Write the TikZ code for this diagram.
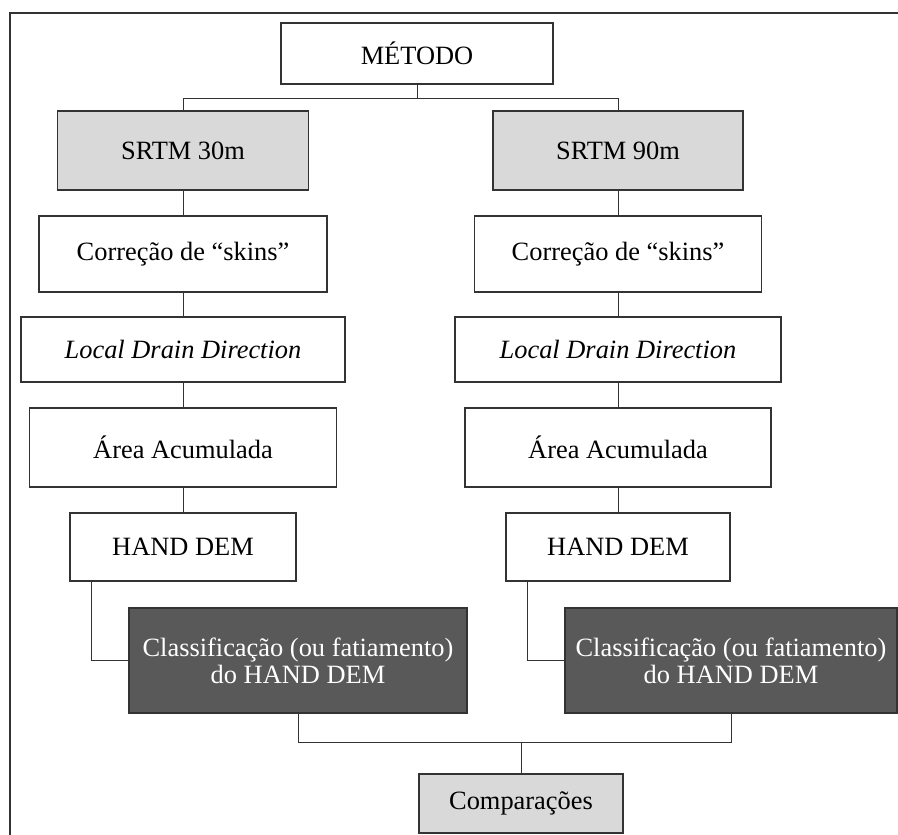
\documentclass[tikz,border=0pt]{standalone}
\usepackage{fontspec}
\setmainfont{Liberation Serif}
\definecolor{boxlight}{HTML}{D9D9D9}
\definecolor{boxdark}{HTML}{595959}
\definecolor{edge}{HTML}{333333}
\begin{document}
\begin{tikzpicture}[x=1pt,y=-1pt,
  box/.style={draw=edge, line width=1.4pt, fill=white, inner sep=0pt,
    font=\fontsize{26.4}{27}\selectfont, align=center},
  lgray/.style={box, fill=boxlight},
  dgray/.style={box, fill=boxdark, text=white},
  link/.style={draw=edge, line width=1pt},
  frame/.style={draw=edge, line width=1.4pt}]
\useasboundingbox (0,0) rectangle (898,835);
\fill[white] (0,0) rectangle (898,835);
\coordinate (fa) at (898,13);
\coordinate (fb) at (10,13);
\coordinate (fc) at (10,835);
\draw[frame] (fa) -- (fb) -- (fc);

\node[box, minimum width=272, minimum height=61] (metodo) at (417,53.5) {MÉTODO};

\node[lgray, minimum width=251, minimum height=79] (s30) at (183,150.5) {SRTM 30m};
\node[lgray, minimum width=250, minimum height=79] (s90) at (618,150.5) {SRTM 90m};

\node[box, minimum width=288, minimum height=76] (cor30) at (183,254) {Correção de “skins”};
\node[box, minimum width=287, minimum height=76] (cor90) at (618,254) {Correção de “skins”};

\node[box, minimum width=324, minimum height=65] (ldd30) at (183,349.5) {\textit{Local Drain Direction}};
\node[box, minimum width=326, minimum height=65] (ldd90) at (618,349.5) {\textit{Local Drain Direction}};

\node[box, minimum width=307, minimum height=79] (ar30) at (183,447.5) {Área Acumulada};
\node[box, minimum width=306, minimum height=79] (ar90) at (618,447.5) {Área Acumulada};

\node[box, minimum width=226, minimum height=68] (hd30) at (183,547) {HAND DEM};
\node[box, minimum width=224, minimum height=68] (hd90) at (618,547) {HAND DEM};

\node[dgray, minimum width=338, minimum height=105] (cl30) at (298,660.5) {Classificação (ou fatiamento)\\do HAND DEM};
\node[dgray, minimum width=332, minimum height=105] (cl90) at (731,660.5) {Classificação (ou fatiamento)\\do HAND DEM};

\node[lgray, minimum width=204, minimum height=59] (comp) at (521,803.5) {Comparações};

% connectors
\coordinate (topbar) at (0,98);
\draw[link] (metodo.south) -- (metodo.south |- topbar);
\draw[link] (s30.north) -- (s30.north |- topbar) -- (s90.north |- topbar) -- (s90.north);

\draw[link] (s30.south) -- (cor30.north);
\draw[link] (cor30.south) -- (ldd30.north);
\draw[link] (ldd30.south) -- (ar30.north);
\draw[link] (ar30.south) -- (hd30.north);
\draw[link] ([xshift=22]hd30.south west) |- (cl30.west);

\draw[link] (s90.south) -- (cor90.north);
\draw[link] (cor90.south) -- (ldd90.north);
\draw[link] (ldd90.south) -- (ar90.north);
\draw[link] (ar90.south) -- (hd90.north);
\draw[link] ([xshift=22]hd90.south west) |- (cl90.west);

\coordinate (botbar) at (0,742);
\draw[link] (cl30.south) -- (cl30.south |- botbar) -- (cl90.south |- botbar) -- (cl90.south);
\draw[link] (comp.north) -- (comp.north |- botbar);
\end{tikzpicture}
\end{document}
